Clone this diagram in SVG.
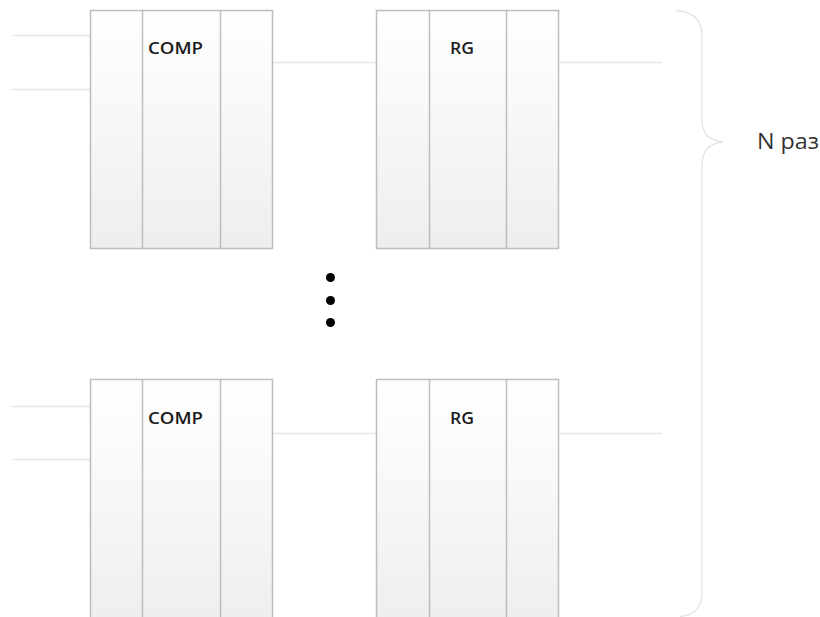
<svg xmlns="http://www.w3.org/2000/svg" width="820" height="617" viewBox="0 0 820 617">
<defs>
<linearGradient id="g" x1="0" y1="0" x2="0" y2="1">
<stop offset="0" stop-color="#ffffff"/>
<stop offset="1" stop-color="#eeeeee"/>
</linearGradient>
<style>
.box{fill:url(#g);stroke:#bdbdbd;stroke-width:1.5}
.div{stroke:#bdbdbd;stroke-width:1.5;fill:none}
.wire{stroke:#e6e6e6;stroke-width:1.5;fill:none}
.brace{stroke:#e4e4e4;stroke-width:1.3;fill:none}
.lbl{font-family:"Open Sans","Liberation Sans",sans-serif;font-size:17px;font-weight:600;fill:#1a1a1a}
.n{font-family:"Open Sans","Liberation Sans",sans-serif;font-size:21px;fill:#333333}
</style>
</defs>
<rect width="820" height="617" fill="#ffffff"/>
<g id="connectors">
<line class="wire" x1="12" y1="35.5" x2="90" y2="35.5"/>
<line class="wire" x1="12" y1="89.5" x2="90" y2="89.5"/>
<line class="wire" x1="273" y1="62.5" x2="376" y2="62.5"/>
<line class="wire" x1="559" y1="62.5" x2="662" y2="62.5"/>
<line class="wire" x1="12" y1="406.5" x2="90" y2="406.5"/>
<line class="wire" x1="12" y1="459.5" x2="90" y2="459.5"/>
<line class="wire" x1="273" y1="433.5" x2="376" y2="433.5"/>
<line class="wire" x1="559" y1="433.5" x2="662" y2="433.5"/>
</g>
<g id="comp1">
<rect class="box" x="90.5" y="10.5" width="182" height="238"/>
<line class="div" x1="142.5" y1="10.5" x2="142.5" y2="248.5"/>
<line class="div" x1="220.5" y1="10.5" x2="220.5" y2="248.5"/>
<text class="lbl" x="148" y="53.5" textLength="55" lengthAdjust="spacingAndGlyphs">COMP</text>
</g>
<g id="rg1">
<rect class="box" x="376.5" y="10.5" width="182" height="238"/>
<line class="div" x1="429.5" y1="10.5" x2="429.5" y2="248.5"/>
<line class="div" x1="506.5" y1="10.5" x2="506.5" y2="248.5"/>
<text class="lbl" x="450" y="53.5" textLength="24" lengthAdjust="spacingAndGlyphs">RG</text>
</g>
<g id="comp2">
<rect class="box" x="90.5" y="379.5" width="182" height="245"/>
<line class="div" x1="142.5" y1="379.5" x2="142.5" y2="624"/>
<line class="div" x1="220.5" y1="379.5" x2="220.5" y2="624"/>
<text class="lbl" x="148" y="423.5" textLength="55" lengthAdjust="spacingAndGlyphs">COMP</text>
</g>
<g id="rg2">
<rect class="box" x="376.5" y="379.5" width="182" height="245"/>
<line class="div" x1="429.5" y1="379.5" x2="429.5" y2="624"/>
<line class="div" x1="506.5" y1="379.5" x2="506.5" y2="624"/>
<text class="lbl" x="450" y="423.5" textLength="24" lengthAdjust="spacingAndGlyphs">RG</text>
</g>
<g id="dots">
<circle cx="330.5" cy="277.5" r="4.5" fill="#000"/>
<circle cx="330.5" cy="300.5" r="4.5" fill="#000"/>
<circle cx="330.5" cy="322.5" r="4.5" fill="#000"/>
</g>
<g id="brace">
<path class="brace" d="M676,10.5 Q702,12 702,36 L702,120 Q702,140 723,142 Q702,144 702,165 L702,592 Q702,615 680,616.5"/>
<text class="n" x="757" y="149" textLength="62" lengthAdjust="spacingAndGlyphs">N раз</text>
</g>
</svg>
